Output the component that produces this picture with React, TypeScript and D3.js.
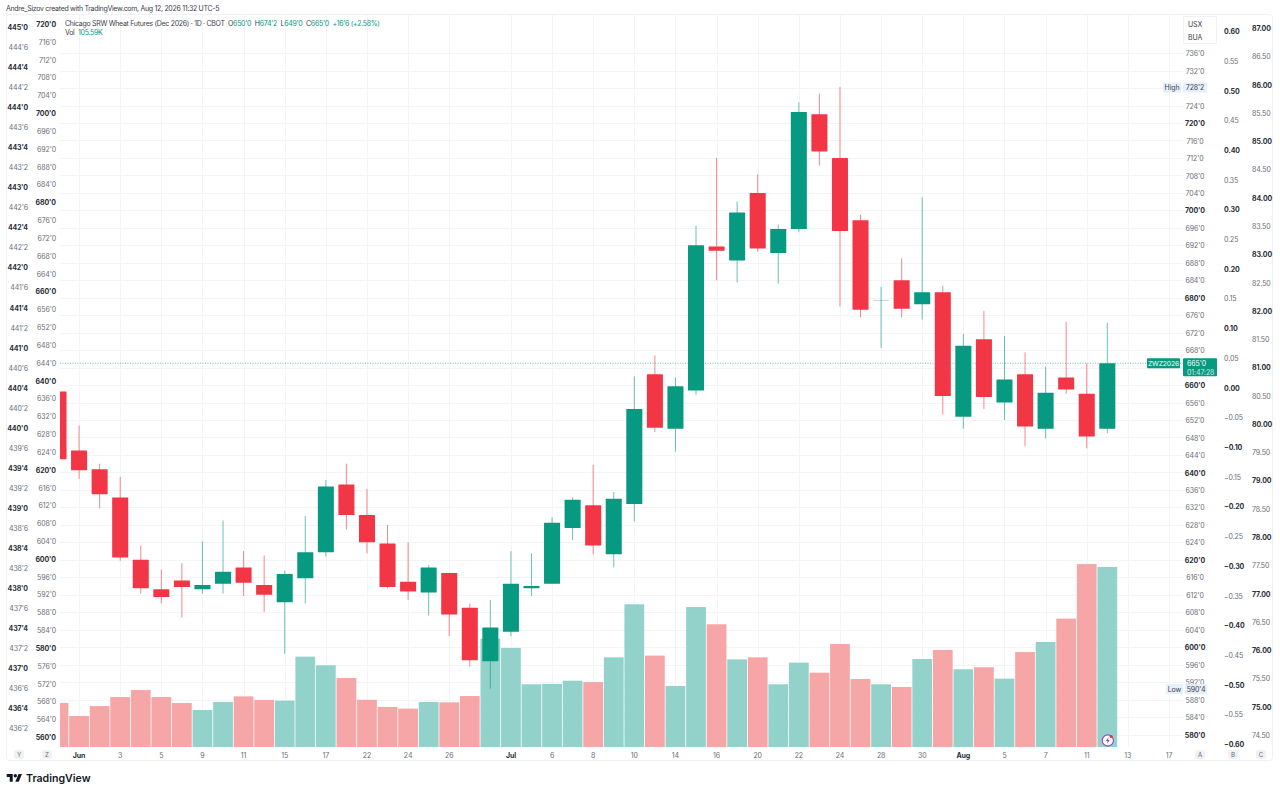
import { useEffect, useRef } from 'react';
import * as d3 from 'd3';

// bars, one per session, prices in cents and eighths as decimals
const opens = [658.5, 645, 640.75, 634.25, 620, 613.25, 615.25, 613.25, 614.5, 618.25, 614.25, 610.25, 615.75, 621.75, 637.25, 630.25, 623.75, 615, 612.5, 617, 609, 596.75, 603.5, 613.5, 614.5, 627.25, 632.5, 621.25, 632.75, 662.5, 650, 658.75, 691.75, 688.5, 704, 690.25, 695.75, 722, 712, 697.75, 679.5, 684, 678.5, 681.25, 652.75, 670.5, 656, 662.5, 650, 661.75, 658, 650];
const highs = [661, 650.75, 642, 639, 623.25, 617.75, 619.25, 624.25, 629, 622, 621, 617.5, 630, 638.25, 642, 636.25, 628, 624, 618.75, 617, 610, 610.75, 622, 621.5, 629.75, 634.25, 641.75, 635.5, 662, 666.75, 661.75, 696.5, 712, 702, 708.25, 696.75, 724.75, 726.75, 728.25, 699, 682.5, 689, 703, 682.75, 671.75, 677, 671.25, 667.5, 664.25, 674.5, 665, 674.25];
const lows = [641, 638.5, 631.75, 619.75, 612.25, 610, 606.75, 612.25, 612.25, 611.75, 608, 598.5, 610, 620.75, 627, 621.5, 613.5, 610.75, 607.25, 602.5, 595.5, 590.5, 602.5, 611.75, 614.5, 624.5, 621.25, 618.25, 628.75, 649.25, 644.75, 657.75, 684, 683.5, 690.5, 683.25, 695, 710.25, 678, 675.5, 668.5, 675.5, 675, 653.25, 650, 654.5, 652, 646, 647.75, 658, 645.5, 649];
const closes = [643, 640.5, 635, 620.5, 613.5, 611.5, 613.75, 614.25, 617.25, 614.75, 612, 616.75, 621.75, 636.75, 630.25, 624, 613.75, 612.75, 618.25, 607.5, 597, 604.5, 614.5, 614, 628.5, 633.75, 623.25, 634, 654.5, 650.25, 659.75, 692, 690.75, 699.5, 691.25, 695.75, 722.5, 713.5, 695.25, 677.25, 679.5, 677.5, 681.25, 657.5, 669, 657.25, 661.25, 650.5, 658.25, 659, 648.25, 665];
// volume in thousands
const volumes = [25.8, 18.2, 24, 29.3, 33.4, 29.3, 25.8, 21.7, 26.4, 29.7, 27.6, 27.2, 53, 47.9, 40.5, 27.7, 23.5, 22.5, 26.4, 26.2, 29.9, 63.5, 58.1, 36.8, 37, 38.9, 38.1, 52.6, 83.7, 53.6, 35.8, 82.1, 72, 51.4, 52.6, 36.8, 49.5, 43.6, 60.4, 39.9, 36.8, 35.2, 51.6, 56.9, 45.6, 46.8, 40.1, 55.7, 61.6, 75.3, 107.3, 105.59];

const timeLabels = ['Jun', '3', '5', '9', '11', '15', '17', '22', '24', '26', 'Jul', '6', '8', '10', '14', '16', '20', '22', '24', '28', '30', 'Aug', '5', '7', '11', '13', '17'];
const timeSlots = [1, 3, 5, 7, 9, 11, 13, 15, 17, 19, 22, 24, 26, 28, 30, 32, 34, 36, 38, 40, 42, 44, 46, 48, 50, 52, 54];
const monthLabels = ['Jun', 'Jul', 'Aug'];

const mainTicks = d3.range(584, 740, 4).concat(580);
const hiddenMainTicks = [728, 664];
const zTicks = d3.range(560, 721, 4);
const yTicks = d3.range(436.25, 445.01, 0.25);
const bTicks = d3.range(-12, 13).map((d) => d * 0.05);
const cTicks = d3.range(74.5, 87.01, 0.5);

const lastPrice = 665;
const highPrice = 728.25;
const lowPrice = 590.5;

const GREEN = '#089981';
const RED = '#f23645';
const FONT = 'Inter, "Noto Sans", sans-serif';

// 728.25 -> 728'2
const fmtPrice = (p: number) => `${Math.floor(p)}'${Math.round((p - Math.floor(p)) * 8)}`;

export default function App() {
  const ref = useRef<SVGSVGElement>(null);

  useEffect(() => {
    const svg = d3.select(ref.current);
    svg.selectAll('*').remove();

    const left = 60;
    const right = 1183;
    const top = 15;
    const bottom = 747;

    const x = d3.scaleLinear().domain([0, 51]).range([58.5, 1107.3]);
    const step = x(1) - x(0);
    const yA = d3.scaleLinear().domain([580, 720]).range([734.5, 123]);
    const yZ = d3.scaleLinear().domain([560, 700]).range([737, 113]);
    const yY = d3.scaleLinear().domain([436.25, 445]).range([728, 27]);
    const yB = d3.scaleLinear().domain([-0.6, 0.6]).range([744, 31]);
    const yC = d3.scaleLinear().domain([74.5, 87]).range([734.8, 28]);
    const yVol = d3.scaleLinear().domain([0, 105.59]).range([bottom, 567]);

    const txt = (s: string, px: number, py: number, opts: any = {}) =>
      svg
        .append('text')
        .attr('x', px)
        .attr('y', py + 0.6)
        .attr('font-family', FONT)
        .attr('font-size', opts.size || 7)
        .attr('font-weight', opts.weight || 400)
        .attr('letter-spacing', opts.spacing === undefined ? -0.1 : opts.spacing)
        .attr('fill', opts.fill || '#5d606b')
        .attr('text-anchor', opts.anchor || 'start')
        .attr('dominant-baseline', 'central')
        .text(s);

    svg.append('defs').append('clipPath').attr('id', 'plot').append('rect').attr('x', left).attr('y', top).attr('width', right - left).attr('height', bottom - top);

    // frame
    svg.append('rect').attr('x', 6.5).attr('y', 14.5).attr('width', 1266).attr('height', 746).attr('rx', 3).attr('fill', 'none').attr('stroke', '#f0f1f4');

    // grid
    const grid = svg.append('g').attr('stroke', '#f3f4f6').attr('stroke-width', 1);
    grid
      .selectAll('line.h')
      .data(mainTicks)
      .join('line')
      .attr('class', 'h')
      .attr('x1', left)
      .attr('x2', right)
      .attr('y1', (d) => Math.round(yA(d)) + 0.5)
      .attr('y2', (d) => Math.round(yA(d)) + 0.5);
    grid
      .selectAll('line.v')
      .data(timeSlots)
      .join('line')
      .attr('class', 'v')
      .attr('x1', (d) => Math.round(x(d)) + 0.5)
      .attr('x2', (d) => Math.round(x(d)) + 0.5)
      .attr('y1', top)
      .attr('y2', bottom);

    const plot = svg.append('g').attr('clip-path', 'url(#plot)');
    const idx = d3.range(opens.length);
    const isUp = (i: number) => closes[i] >= opens[i];

    // volume
    plot
      .append('g')
      .selectAll('rect')
      .data(idx)
      .join('rect')
      .attr('x', (i) => x(i) - step / 2 + 0.4)
      .attr('width', step - 0.8)
      .attr('y', (i) => yVol(volumes[i]))
      .attr('height', (i) => bottom - yVol(volumes[i]))
      .attr('fill', (i) => (isUp(i) ? '#93d2ca' : '#f7a6a8'));

    // last price line
    svg
      .append('line')
      .attr('x1', left)
      .attr('x2', right)
      .attr('y1', yA(lastPrice))
      .attr('y2', yA(lastPrice))
      .attr('stroke', GREEN)
      .attr('stroke-opacity', 0.6)
      .attr('stroke-dasharray', '1 1.5');

    // wicks then bodies
    plot
      .append('g')
      .selectAll('line')
      .data(idx)
      .join('line')
      .attr('x1', (i) => x(i))
      .attr('x2', (i) => x(i))
      .attr('y1', (i) => yA(highs[i]))
      .attr('y2', (i) => yA(lows[i]))
      .attr('stroke', (i) => (isUp(i) ? GREEN : RED))
      .attr('stroke-opacity', 0.6);
    plot
      .append('g')
      .selectAll('rect')
      .data(idx)
      .join('rect')
      .attr('x', (i) => x(i) - step * 0.39)
      .attr('width', step * 0.78)
      .attr('y', (i) => yA(Math.max(opens[i], closes[i])))
      .attr('height', (i) => Math.max(0.6, Math.abs(yA(opens[i]) - yA(closes[i]))))
      .attr('rx', 0.5)
      .attr('fill', (i) => (isUp(i) ? GREEN : RED))
      .attr('fill-opacity', (i) => (opens[i] === closes[i] ? 0.6 : 1));

    const tickStyle = (major: boolean) => ({ weight: major ? 700 : 400, fill: major ? '#2a2e39' : '#6a6d78' });

    // left axes
    yTicks.forEach((d) => {
      const major = Math.abs(d * 2 - Math.round(d * 2)) < 0.001;
      txt(fmtPrice(d), 28, yY(d), { anchor: 'end', ...tickStyle(major) });
    });
    zTicks.forEach((d) => {
      txt(fmtPrice(d), 56, yZ(d), { anchor: 'end', ...tickStyle(d % 20 === 0) });
    });

    // main price axis
    mainTicks
      .filter((d) => !hiddenMainTicks.includes(d))
      .forEach((d) => {
        txt(fmtPrice(d), 1195, yA(d), { anchor: 'middle', ...tickStyle(d % 20 === 0) });
      });

    // right axes
    bTicks.forEach((d) => {
      const major = Math.abs(d * 10 - Math.round(d * 10)) < 0.001;
      const label = (d < -0.001 ? '\u2212' : '') + Math.abs(d).toFixed(2);
      txt(label, 1224, yB(d), tickStyle(major));
    });
    cTicks.forEach((d) => {
      txt(d.toFixed(2), 1252, yC(d), tickStyle(d % 1 === 0));
    });

    // time axis
    timeLabels.forEach((label, i) => {
      txt(label, x(timeSlots[i]), 755, { anchor: 'middle', ...tickStyle(monthLabels.includes(label)) });
    });

    // corner buttons
    [['Y', 19], ['Z', 47], ['A', 1200], ['B', 1233], ['C', 1261]].forEach(([label, px]: any) => {
      svg.append('rect').attr('x', px - 5).attr('y', 750).attr('width', 10).attr('height', 9).attr('rx', 2.5).attr('fill', '#f0f1f5');
      txt(label, px, 754.2, { anchor: 'middle', size: 6.2, fill: '#6a6d78' });
    });

    // currency/unit box
    svg.append('rect').attr('x', 1183.5).attr('y', 16.5).attr('width', 33).attr('height', 27).attr('fill', '#fff').attr('stroke', '#f0f1f4');
    txt('USX', 1188, 23.5, { fill: '#3f424d' });
    txt('BUA', 1188, 36.5, { fill: '#3f424d' });

    // high / low labels
    const tag = (name: string, p: number, nameX: number, nameW: number, boxX: number, boxW: number) => {
      const py = yA(p);
      svg.append('rect').attr('x', nameX).attr('y', py - 4.5).attr('width', nameW).attr('height', 10).attr('fill', '#e6f0fa');
      svg.append('rect').attr('x', boxX).attr('y', py - 4.5).attr('width', boxW).attr('height', 10).attr('fill', '#e6f0fa');
      txt(name, nameX + nameW / 2, py, { anchor: 'middle', fill: '#3f424d' });
      txt(fmtPrice(p), boxX + boxW / 2, py, { anchor: 'middle', fill: '#3f424d' });
    };
    tag('High', highPrice, 1163, 18, 1183, 24);
    tag('Low', lowPrice, 1166, 17, 1185, 22);

    // last price labels
    const py = yA(lastPrice);
    svg.append('rect').attr('x', 1147).attr('y', py - 5).attr('width', 33).attr('height', 10).attr('rx', 1).attr('fill', GREEN);
    txt('ZWZ2026', 1163.5, py, { anchor: 'middle', fill: '#fff', size: 6.8, spacing: -0.15 });
    svg.append('rect').attr('x', 1183).attr('y', py - 5).attr('width', 34).attr('height', 18).attr('rx', 1).attr('fill', GREEN);
    txt(fmtPrice(lastPrice), 1187, py, { fill: '#fff' });
    txt('01:47:28', 1187, py + 8.5, { fill: '#cfeae5' });

    // header
    txt('Andre_Sizov created with TradingView.com, Aug 12, 2026 11:32 UTC-5', 6, 8, { fill: '#3a3d46', spacing: -0.3 });
    const legend = svg.append('text').attr('x', 65).attr('y', 23).attr('font-family', FONT).attr('font-size', 7).attr('letter-spacing', -0.3).attr('dominant-baseline', 'central').attr('fill', '#3f424d');
    legend.append('tspan').text('Chicago SRW Wheat Futures (Dec 2026) · 1D · CBOT');
    [['O', "650'0"], ['H', "674'2"], ['L', "649'0"], ['C', "665'0"]].forEach(([k, v]) => {
      legend.append('tspan').attr('dx', 3.6).text(k);
      legend.append('tspan').attr('fill', GREEN).text(v);
    });
    legend.append('tspan').attr('dx', 3.6).attr('fill', GREEN).text("+16'6 (+2.58%)");
    txt('Vol', 65, 31.5, { fill: '#3f424d', spacing: -0.3 });
    txt('105.59K', 78, 31.5, { fill: GREEN, spacing: -0.3 });

    // lightning badge on the last bar
    const badge = svg.append('g').attr('transform', `translate(${x(51) + 0.5},740.5)`);
    badge.append('circle').attr('r', 5.6).attr('fill', '#fff').attr('stroke', '#9c3fc0').attr('stroke-width', 1.1);
    badge.append('path').attr('d', 'M0.8 -3.2 L-2 0.6 H-0.2 L-0.8 3.2 L2 -0.6 H0.2 Z').attr('fill', '#9c3fc0');
    badge.append('circle').attr('cx', 3.4).attr('cy', -3.9).attr('r', 1.5).attr('fill', '#e8304e');

    // logo
    const logo = svg.append('g').attr('transform', 'translate(6.7,772.3) scale(0.43)').attr('fill', '#131722');
    logo.append('path').attr('d', 'M14 22H7V11H0V4h14v18zM28 22h-8l7.5-18h8L28 22z');
    logo.append('circle').attr('cx', 20).attr('cy', 8).attr('r', 4);
    txt('TradingView', 26, 777.5, { size: 10.6, weight: 600, fill: '#131722', spacing: 0 });
  }, []);

  return <svg ref={ref} width={1280} height={794} style={{ position: 'absolute', left: 0, top: 0, background: '#fff' }} />;
}
